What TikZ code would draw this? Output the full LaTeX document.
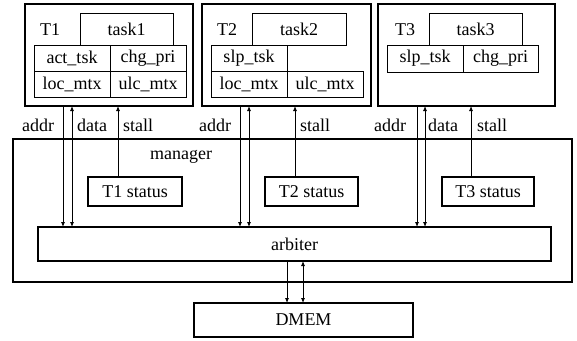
\documentclass[tikz,border=0pt]{standalone}
\usepackage{fontspec}
\setmainfont{Liberation Serif}
\usetikzlibrary{arrows.meta}
\begin{document}
\begin{tikzpicture}[x=1pt,y=-1pt,
  font=\fontsize{18}{20}\selectfont,
  thickbox/.style={draw,line width=1.6pt,inner sep=0pt,outer sep=0pt},
  thinbox/.style={draw,line width=0.8pt,inner sep=0pt,outer sep=0pt},
  lbl/.style={inner sep=0pt},
  conn/.style={line width=0.8pt},
  tip/.tip={Latex[length=5pt,width=4pt]}]
\useasboundingbox (0,0) rectangle (577,340);
% manager
\node[thickbox,minimum width=559pt,minimum height=143pt] (mgr) at (292.5,210.5) {};
\node[lbl] (mgrl) at (181,157) {manager};
% T1
\node[thickbox,minimum width=168pt,minimum height=102pt] (T1) at (109,55) {};
\node[lbl] (T1l) at (50,30) {T1};
\node[thinbox,minimum width=93pt,minimum height=32pt] (task1) at (126.5,29) {task1};
\node[thinbox,minimum width=76pt,minimum height=26pt] (t1a) at (72,58) {act\_tsk};
\node[thinbox,minimum width=76pt,minimum height=26pt] (t1b) at (148,58) {chg\_pri};
\node[thinbox,minimum width=76pt,minimum height=26pt] (t1c) at (72,84) {loc\_mtx};
\node[thinbox,minimum width=76pt,minimum height=26pt] (t1d) at (148,84) {ulc\_mtx};
% T2
\node[thickbox,minimum width=169pt,minimum height=102pt] (T2) at (286.5,55) {};
\node[lbl] (T2l) at (227,30) {T2};
\node[thinbox,minimum width=94pt,minimum height=32pt] (task2) at (299,29) {task2};
\node[thinbox,minimum width=76pt,minimum height=26pt] (t2a) at (249,58) {slp\_tsk};
\node[thinbox,minimum width=76pt,minimum height=26pt] (t2c) at (249,84) {loc\_mtx};
\node[thinbox,minimum width=76pt,minimum height=26pt] (t2d) at (325,84) {ulc\_mtx};
% T3
\node[thickbox,minimum width=177pt,minimum height=102pt] (T3) at (466.5,55) {};
\node[lbl] (T3l) at (405,30) {T3};
\node[thinbox,minimum width=93pt,minimum height=32pt] (task3) at (475.5,29) {task3};
\node[thinbox,minimum width=76pt,minimum height=27pt] (t3a) at (425,58.5) {slp\_tsk};
\node[thinbox,minimum width=75pt,minimum height=27pt] (t3b) at (500.5,58.5) {chg\_pri};
% status boxes
\node[thickbox,minimum width=94pt,minimum height=29pt] (s1) at (135,191.5) {T1 status};
\node[thickbox,minimum width=93pt,minimum height=29pt] (s2) at (311.5,191.5) {T2 status};
\node[thickbox,minimum width=92pt,minimum height=29pt] (s3) at (488,191.5) {T3 status};
% arbiter and DMEM
\node[thickbox,minimum width=513pt,minimum height=34pt] (arb) at (294.5,244) {arbiter};
\node[thickbox,minimum width=219pt,minimum height=34pt] (dmem) at (303.5,320) {DMEM};
% labels
\node[lbl] (a1) at (38,125) {addr};
\node[lbl] (d1) at (92,125) {data};
\node[lbl] (st1) at (138,125) {stall};
\node[lbl] (a2) at (215,125) {addr};
\node[lbl] (st2) at (315,125) {stall};
\node[lbl] (a3) at (390,125) {addr};
\node[lbl] (d3) at (443,125) {data};
\node[lbl] (st3) at (492,125) {stall};
% x positions of connectors
\coordinate (xa1) at (63,0);
\coordinate (xd1) at (72,0);
\coordinate (xs1) at (118,0);
\coordinate (xa2) at (240,0);
\coordinate (xd2) at (249,0);
\coordinate (xs2) at (295,0);
\coordinate (xa3) at (417,0);
\coordinate (xd3) at (425,0);
\coordinate (xs3) at (471,0);
\coordinate (xm1) at (287,0);
\coordinate (xm2) at (303,0);
% connectors
\foreach \i in {1,2,3}{
  \draw[conn,-tip] (xa\i |- T\i.south) -- (xa\i |- arb.north);
  \draw[conn,tip-tip] (xd\i |- T\i.south) -- (xd\i |- arb.north);
  \draw[conn,-tip] (xs\i |- s\i.north) -- (xs\i |- T\i.south);
}
\draw[conn,-tip] (xm1 |- arb.south) -- (xm1 |- dmem.north);
\draw[conn,tip-tip] (xm2 |- arb.south) -- (xm2 |- dmem.north);
\end{tikzpicture}
\end{document}
